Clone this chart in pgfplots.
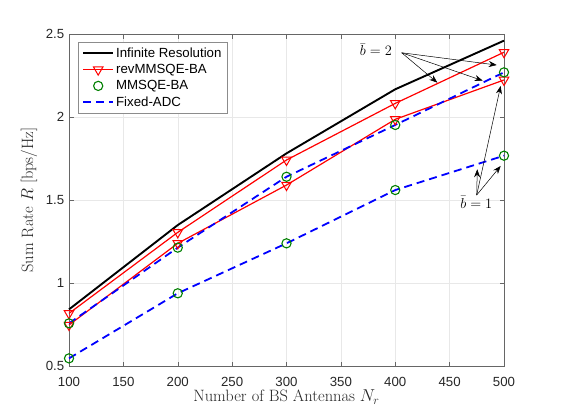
\documentclass[border=0pt]{standalone}
\usepackage{pgfplots}
\pgfplotsset{compat=1.18}
\usepackage{fontspec}
\newfontfamily\arial{Liberation Sans}
\usetikzlibrary{arrows.meta}

\definecolor{mgreen}{rgb}{0,0.5,0}

% sum-rate results (N_r, R)
\pgfplotstableread{
Nr  R
100 0.841
200 1.349
300 1.781
400 2.167
500 2.460
}\infres
\pgfplotstableread{
Nr  R
100 0.817
200 1.305
300 1.741
400 2.082
500 2.390
}\revtwo
\pgfplotstableread{
Nr  R
100 0.747
200 1.239
300 1.590
400 1.986
500 2.223
}\revone
\pgfplotstableread{
Nr  R
100 0.757
200 1.213
300 1.640
400 1.952
500 2.269
}\fixtwo
\pgfplotstableread{
Nr  R
100 0.546
200 0.938
300 1.239
400 1.560
500 1.767
}\fixone

\begin{document}
\begin{tikzpicture}[x=1bp,y=1bp]
\path[use as bounding box] (-69,-51) rectangle (493,366);
\begin{axis}[
  at={(0,0)}, anchor=south west,
  scale only axis, width=435bp, height=332bp,
  clip=false,
  xmin=100, xmax=500, ymin=0.5, ymax=2.5,
  xtick={100,150,200,250,300,350,400,450,500},
  ytick={0.5,1,1.5,2,2.5},
  tick align=inside, tick pos=both,
  major tick length=4.5bp,
  axis line style={black!60, line width=0.6bp},
  every tick/.style={black!60, line width=0.5bp},
  grid=major,
  major grid style={black!9, line width=0.5bp},
  ticklabel style={font=\arial\fontsize{13.3}{15}\selectfont, text=black!85},
  xticklabel style={yshift=-7.5bp},
  yticklabel style={xshift=-1.3bp},
  /pgf/number format/assume math mode=true,
  xlabel={Number of BS Antennas $N_r$},
  ylabel={Sum Rate $R$ [bps/Hz]},
  label style={font=\fontsize{16.5}{19}\selectfont, text=black!85},
  every axis x label/.append style={at={(axis description cs:0.5,-0.0934)}, anchor=center},
  every axis y label/.append style={at={(axis description cs:-0.092,0.5)}, anchor=center},
  legend style={at={(axis description cs:0.0207,0.976)}, anchor=north west,
    draw=black!45, line width=0.5bp, fill=white,
    font=\arial\fontsize{13.3}{15}\selectfont,
    inner xsep=4bp, inner ysep=3.5bp, row sep=1.5bp,
    cells={anchor=west}},
  legend image code/.code={\draw[mark repeat=2,mark phase=2,#1]
    plot coordinates {(0bp,0bp) (15bp,0bp) (30bp,0bp)};},
]
\addplot[black, line width=1.9bp, no marks] table[x=Nr,y=R] {\infres};
\addlegendentry{Infinite Resolution}
\addplot[red, line width=1.2bp, mark=triangle, mark size=5.5bp,
  mark options={rotate=180, solid, fill=none, line width=1bp}] table[x=Nr,y=R] {\revtwo};
\addlegendentry{revMMSQE-BA}
\addplot[red, line width=1.2bp, mark=triangle, mark size=5.5bp,
  mark options={rotate=180, solid, fill=none, line width=1bp}, forget plot] table[x=Nr,y=R] {\revone};
\addplot[mgreen, only marks, mark=o, mark size=4.6bp, mark options={line width=1.1bp}] table[x=Nr,y=R] {\fixtwo};
\addlegendentry{MMSQE-BA}
\addplot[mgreen, only marks, mark=o, mark size=4.6bp, mark options={line width=1.1bp}, forget plot] table[x=Nr,y=R] {\fixone};
\addplot[blue, line width=1.8bp, dash pattern=on 8bp off 5bp, no marks] table[x=Nr,y=R] {\fixtwo};
\addlegendentry{Fixed-ADC}
\addplot[blue, line width=1.8bp, dash pattern=on 8bp off 5bp, no marks, forget plot] table[x=Nr,y=R] {\fixone};

% annotations for the two resolution budgets
\node[anchor=east, font=\fontsize{15}{18}\selectfont, inner sep=1bp] at (axis cs:398,2.404) {$\bar{b}=2$};
\draw[line width=0.5bp, -{Stealth[length=8bp,width=6bp]}] (axis cs:405.9,2.387) -- (axis cs:438.7,2.207);
\draw[line width=0.5bp, -{Stealth[length=8bp,width=6bp]}] (axis cs:405.9,2.387) -- (axis cs:493.3,2.313);
\draw[line width=0.5bp, -{Stealth[length=8bp,width=6bp]}] (axis cs:405.9,2.387) -- (axis cs:480.4,2.219);

\node[anchor=north, font=\fontsize{15}{18}\selectfont, inner sep=1bp] at (axis cs:474.5,1.53) {$\bar{b}=1$};
\draw[line width=0.5bp, -{Stealth[length=8bp,width=6bp]}] (axis cs:474.9,1.53) -- (axis cs:475.4,1.685);
\draw[line width=0.5bp, -{Stealth[length=8bp,width=6bp]}] (axis cs:474.9,1.53) -- (axis cs:496.9,1.705);
\draw[line width=0.5bp, -{Stealth[length=8bp,width=6bp]}] (axis cs:474.9,1.53) -- (axis cs:496.9,2.187);
\end{axis}
\end{tikzpicture}
\end{document}
